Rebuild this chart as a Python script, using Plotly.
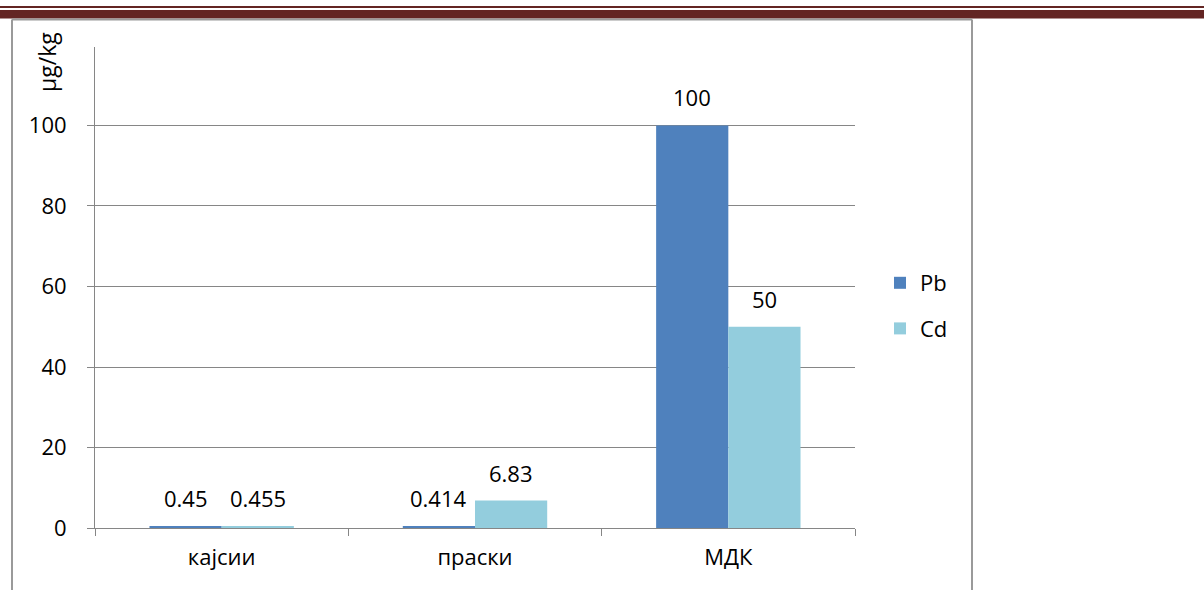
import plotly.graph_objects as go

categories = ["кајсии", "праски", "МДК"]
pb_values = [0.45, 0.414, 100]
cd_values = [0.455, 6.83, 50]
y_ticks = [0, 20, 40, 60, 80, 100]

W, H = 1204, 590
L, R, T, B = 95, 855, 47, 528  # plot area in pixels
BARGAP = 0.43
FS = 22

def px_x(px):
    return (px - L) / (R - L)


def px_y(py):
    return (B - py) / (B - T)


font_main = "Open Sans, Liberation Sans, sans-serif"

fig = go.Figure()
fig.add_trace(go.Bar(
    name="Pb", x=categories, y=pb_values, legendgroup="pb",
    marker=dict(color="#4F81BD", line=dict(width=0)),
))
fig.add_trace(go.Bar(
    name="Cd", x=categories, y=cd_values, legendgroup="cd",
    marker=dict(color="#93CDDD", line=dict(width=0)),
))

# value labels above each bar, shifted to the bar's slot in the group
cat_px = (R - L) / len(categories)
bar_px = cat_px * (1 - BARGAP) / 2
annotations = []
for values, shift in ((pb_values, -bar_px / 2), (cd_values, bar_px / 2)):
    for cat, v in zip(categories, values):
        annotations.append(dict(
            x=cat, y=v, xref="x", yref="y", text=f"{v:g}",
            xshift=shift, yshift=11, yanchor="bottom", xanchor="center",
            showarrow=False, font=dict(size=FS, color="#000000")))

annotations.append(dict(text="μg/kg", xref="paper", yref="paper",
                        x=px_x(47), y=px_y(62), textangle=-90,
                        showarrow=False, font=dict(size=FS + 1),
                        xanchor="center", yanchor="middle"))

shapes = [
    # page header rules
    dict(type="rect", xref="paper", yref="paper",
         x0=px_x(0), x1=px_x(W), y0=px_y(8), y1=px_y(6),
         fillcolor="#632523", line=dict(width=0), layer="above"),
    dict(type="rect", xref="paper", yref="paper",
         x0=px_x(0), x1=px_x(W), y0=px_y(18.5), y1=px_y(10),
         fillcolor="#632523", line=dict(width=0), layer="above"),
    # chart frame
    dict(type="line", xref="paper", yref="paper",
         x0=px_x(12), x1=px_x(972), y0=px_y(19.5), y1=px_y(19.5),
         line=dict(color="#9A9A9A", width=2)),
    dict(type="line", xref="paper", yref="paper",
         x0=px_x(12), x1=px_x(12), y0=px_y(19.5), y1=px_y(600),
         line=dict(color="#9A9A9A", width=2)),
    dict(type="line", xref="paper", yref="paper",
         x0=px_x(972), x1=px_x(972), y0=px_y(19.5), y1=px_y(600),
         line=dict(color="#9A9A9A", width=2)),
]

fig.update_layout(
    width=W, height=H,
    margin=dict(l=L, r=W - R, t=T, b=H - B, pad=0),
    paper_bgcolor="#FFFFFF", plot_bgcolor="#FFFFFF",
    font=dict(family=font_main, size=FS, color="#000000"),
    barmode="group", bargap=BARGAP, bargroupgap=0,
    showlegend=True,
    legend=dict(x=px_x(880), y=px_y(262), xanchor="left", yanchor="top",
                font=dict(size=FS), itemsizing="constant",
                traceorder="grouped", tracegroupgap=14,
                bgcolor="rgba(0,0,0,0)", itemwidth=30),
    shapes=shapes,
    annotations=annotations,
    xaxis=dict(showline=True, linecolor="#868686", linewidth=1,
               ticks="outside", tickson="boundaries", ticklen=7,
               tickcolor="#868686", showgrid=False,
               ticklabelstandoff=10, tickfont=dict(size=FS)),
    yaxis=dict(range=[0, 119.5], tickvals=y_ticks, showline=True,
               linecolor="#868686", linewidth=1, ticks="outside",
               ticklen=7, tickcolor="#868686", showgrid=True,
               gridcolor="#868686", gridwidth=1, zeroline=False,
               ticklabelstandoff=16, tickfont=dict(size=FS)),
)

fig.write_html("out.html")
